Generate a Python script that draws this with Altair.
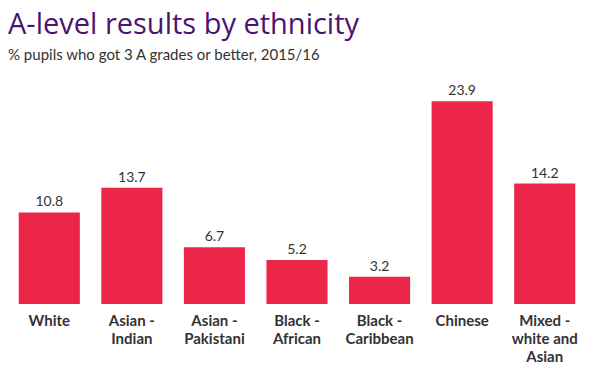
import altair as alt
import pandas as pd

categories = ["White", "Asian -\nIndian", "Asian -\nPakistani", "Black -\nAfrican",
              "Black -\nCaribbean", "Chinese", "Mixed -\nwhite and\nAsian"]
values = [10.8, 13.7, 6.7, 5.2, 3.2, 23.9, 14.2]

df = pd.DataFrame({"group": categories, "pct": values})
df["label"] = df["pct"].map(lambda v: f"{v:.1f}")

x = alt.X("group:N", sort=categories, title=None,
          scale=alt.Scale(paddingInner=0.26, paddingOuter=0.13),
          axis=alt.Axis(labelAngle=0, labelExpr="split(datum.label, '\\n')",
                        labelFont="Lato", labelFontWeight="bold", labelFontSize=15,
                        labelColor="#333333", labelPadding=9, labelLineHeight=18,
                        domain=False, ticks=False, labelBaseline="top"))
y = alt.Y("pct:Q", scale=alt.Scale(domain=[0, 27], nice=False), axis=None)

bars = alt.Chart(df).mark_bar(color="#EC2649").encode(x=x, y=y)
text = alt.Chart(df).mark_text(dy=-3, baseline="bottom", font="Lato", fontSize=14,
                               color="#333333").encode(x=x, y=y, text="label:N")

chart = (bars + text).properties(
    width=578, height=229,
    title=alt.TitleParams(
        "A-level results by ethnicity",
        subtitle="% pupils who got 3 A grades or better, 2015/16",
        anchor="start", font="Open Sans", fontSize=29, fontWeight="normal",
        color="#4B1470", subtitleFont="Lato", subtitleFontSize=15,
        subtitleColor="#333333", offset=12, subtitlePadding=8, dx=0,
    ),
    padding={"left": 0, "right": 0, "top": 3, "bottom": 0},
).configure_view(stroke=None)

chart.save("out.html", embed_options={"renderer": "svg", "actions": False})
